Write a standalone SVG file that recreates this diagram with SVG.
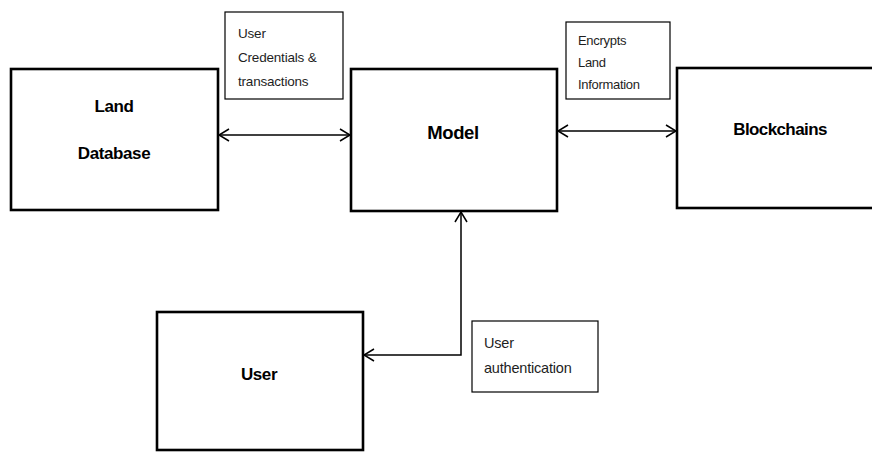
<svg xmlns="http://www.w3.org/2000/svg" width="872" height="453" viewBox="0 0 872 453">
  <style>
    .node { fill: #ffffff; stroke: #000000; stroke-width: 2.6; }
    .note { fill: #ffffff; stroke: #000000; stroke-width: 1.2; }
    .title { font-family: "Liberation Sans", Arial, sans-serif; font-weight: bold; font-size: 17px; fill: #000000; text-anchor: middle; letter-spacing: -0.4px; }
    .label { font-family: "Liberation Sans", Arial, sans-serif; font-size: 13.5px; fill: #1e1e1e; letter-spacing: -0.2px; }
    .link { fill: none; stroke: #000000; stroke-width: 1.5; }
  </style>
  <defs>
    <marker id="chevron" viewBox="0 0 12 14" refX="11" refY="7" markerWidth="12" markerHeight="14" markerUnits="userSpaceOnUse" orient="auto-start-reverse">
      <path d="M1,1 L11,7 L1,13" fill="none" stroke="#000000" stroke-width="1.5"/>
    </marker>
  </defs>
  <rect width="872" height="453" fill="#ffffff"/>

  <g id="connectors">
    <line class="link" x1="219" y1="135" x2="350" y2="135" marker-start="url(#chevron)" marker-end="url(#chevron)"/>
    <line class="link" x1="558" y1="131" x2="676" y2="131" marker-start="url(#chevron)" marker-end="url(#chevron)"/>
    <polyline class="link" points="461,212 461,355 364,355" marker-start="url(#chevron)" marker-end="url(#chevron)"/>
  </g>

  <g id="land-database">
    <rect class="node" x="11" y="69" width="207" height="141"/>
    <text class="title" x="114" y="112">Land</text>
    <text class="title" x="114" y="159">Database</text>
  </g>

  <g id="model">
    <rect class="node" x="351" y="69" width="206" height="142"/>
    <text class="title" x="453" y="139" style="font-size:18.5px">Model</text>
  </g>

  <g id="blockchains">
    <rect class="node" x="677" y="68" width="205" height="140"/>
    <text class="title" x="780" y="135" style="letter-spacing:-0.6px">Blockchains</text>
  </g>

  <g id="user">
    <rect class="node" x="157" y="312" width="206" height="138"/>
    <text class="title" x="259" y="380">User</text>
  </g>

  <g id="note-credentials">
    <rect class="note" x="225" y="12" width="118" height="87"/>
    <text class="label" x="238" y="38">User</text>
    <text class="label" x="238" y="62">Credentials &amp;</text>
    <text class="label" x="238" y="86">transactions</text>
  </g>

  <g id="note-encrypts">
    <rect class="note" x="566" y="22" width="104" height="77"/>
    <text class="label" x="578" y="45" style="font-size:13px;letter-spacing:-0.3px">Encrypts</text>
    <text class="label" x="578" y="67" style="font-size:13px;letter-spacing:-0.3px">Land</text>
    <text class="label" x="578" y="89" style="font-size:13px;letter-spacing:-0.3px">Information</text>
  </g>

  <g id="note-authentication">
    <rect class="note" x="472" y="321" width="126" height="71"/>
    <text class="label" x="484" y="348" style="font-size:14.5px">User</text>
    <text class="label" x="484" y="373" style="font-size:14.5px">authentication</text>
  </g>
</svg>
